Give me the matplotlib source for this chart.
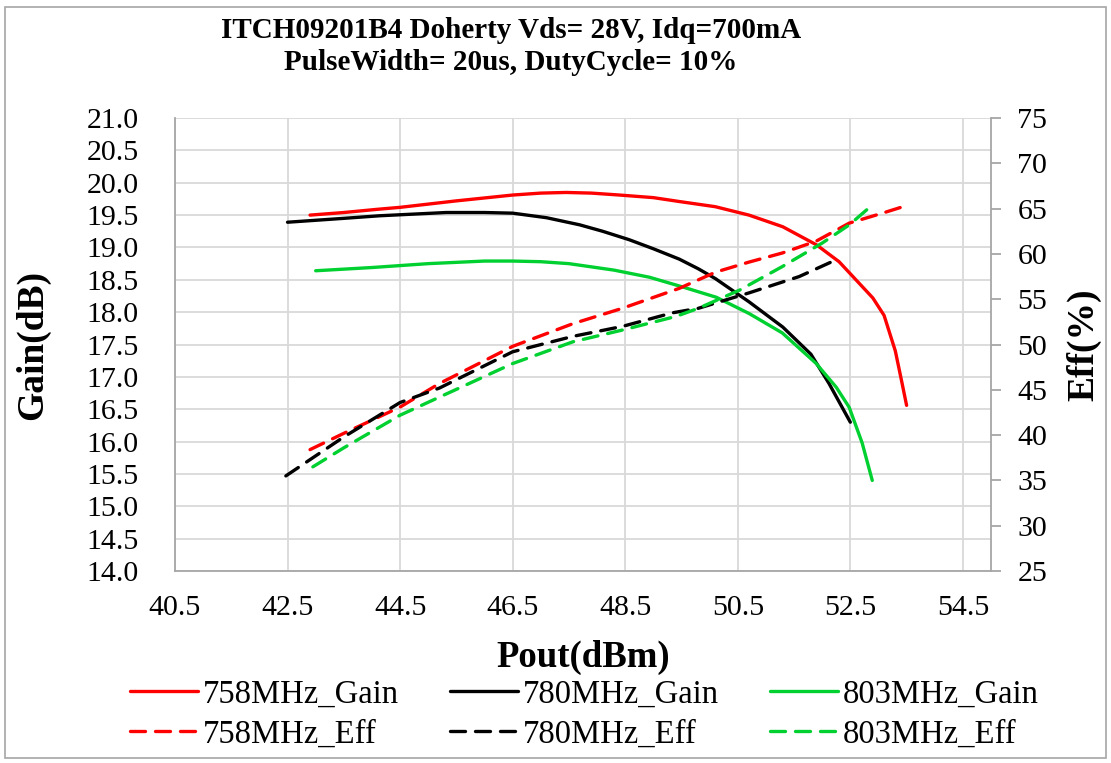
import matplotlib
matplotlib.use('Agg')
import matplotlib.pyplot as plt
from matplotlib.patches import Rectangle

plt.rcParams['font.family'] = ['Liberation Serif', 'DejaVu Serif']

# Pout (dBm) and gain (dB) / drain efficiency (%)
pout_758_gain = [42.9, 43.5, 44.1, 44.5, 45.5, 46.5, 47.0, 47.45, 47.9, 48.4, 49.0, 49.46, 50.1, 50.7, 51.3, 51.9, 52.3, 52.6, 52.9, 53.1, 53.3, 53.42, 53.5]
gain_758 = [19.50, 19.54, 19.59, 19.62, 19.72, 19.81, 19.84, 19.85, 19.84, 19.81, 19.77, 19.71, 19.63, 19.50, 19.32, 19.04, 18.78, 18.50, 18.22, 17.95, 17.40, 16.90, 16.56]

pout_780_gain = [42.5, 43.5, 44.14, 45.32, 46.0, 46.5, 47.1, 47.69, 48.1, 48.57, 49.0, 49.46, 49.8, 50.1, 50.7, 51.3, 51.8, 52.12, 52.5]
gain_780 = [19.39, 19.45, 19.49, 19.54, 19.54, 19.53, 19.46, 19.35, 19.25, 19.12, 18.98, 18.82, 18.67, 18.52, 18.16, 17.77, 17.35, 16.90, 16.30]

pout_803_gain = [43.0, 44.0, 45.0, 46.0, 46.5, 47.0, 47.5, 48.3, 48.93, 49.52, 50.12, 50.7, 51.29, 51.89, 52.25, 52.48, 52.71, 52.89]
gain_803 = [18.64, 18.69, 18.75, 18.79, 18.79, 18.78, 18.75, 18.65, 18.54, 18.39, 18.23, 17.98, 17.68, 17.21, 16.84, 16.53, 15.98, 15.40]

pout_758_eff = [42.9, 43.5, 44.5, 45.2, 46.5, 47.57, 48.45, 49.46, 50.11, 50.7, 51.29, 51.89, 52.48, 53.07, 53.48]
eff_758 = [38.4, 40.2, 43.1, 45.7, 49.8, 52.3, 54.0, 56.2, 58.0, 59.1, 60.1, 61.4, 63.4, 64.5, 65.3]

pout_780_eff = [42.47, 43.5, 44.5, 45.2, 46.5, 47.57, 48.45, 49.34, 49.8, 50.7, 51.59, 52.3]
eff_780 = [35.5, 39.8, 43.6, 45.2, 49.2, 50.9, 52.0, 53.5, 54.0, 55.7, 57.5, 59.5]

pout_803_eff = [42.95, 43.5, 44.5, 45.2, 46.5, 47.57, 48.45, 49.4, 49.8, 50.53, 51.29, 52.0, 52.48, 52.89]
eff_803 = [36.5, 38.6, 42.2, 44.2, 47.9, 50.3, 51.6, 53.1, 54.0, 56.0, 58.6, 61.2, 63.2, 65.4]

xticks = [40.5, 42.5, 44.5, 46.5, 48.5, 50.5, 52.5, 54.5]

RED = '#ff0000'
BLACK = '#000000'
GREEN = '#00d030'

fig = plt.figure(figsize=(11.11, 7.63), dpi=100)
ax = fig.add_axes([0.1575, 0.2516, 0.7345, 0.5937])
ax2 = ax.twinx()

lw = 2.4
dash = (0, (4.5, 3))
l1, = ax.plot(pout_758_gain, gain_758, color=RED, lw=lw, solid_capstyle='round', solid_joinstyle='round')
l2, = ax.plot(pout_780_gain, gain_780, color=BLACK, lw=lw, solid_capstyle='round', solid_joinstyle='round')
l3, = ax.plot(pout_803_gain, gain_803, color=GREEN, lw=lw, solid_capstyle='round', solid_joinstyle='round')
e1, = ax2.plot(pout_758_eff, eff_758, color=RED, lw=lw, linestyle=dash, dash_capstyle='round')
e2, = ax2.plot(pout_780_eff, eff_780, color=BLACK, lw=lw, linestyle=dash, dash_capstyle='round')
e3, = ax2.plot(pout_803_eff, eff_803, color=GREEN, lw=lw, linestyle=dash, dash_capstyle='round')

ax.set_xlim(40.5, 55)
ax.set_ylim(14, 21)
ax.set_xticks(xticks)
ax.set_xticklabels([f'{v:.1f}' for v in xticks])
ax.set_yticks([14 + 0.5 * i for i in range(15)])
ax.set_yticklabels([f'{14 + 0.5 * i:.1f}' for i in range(15)])
ax2.set_ylim(25, 75)
ax2.set_yticks(range(25, 80, 5))

ax.grid(True, color='#d9d9d9', lw=1.3)
ax.set_axisbelow(True)
for s in ['top', 'right']:
    ax.spines[s].set_visible(False)
for s in ['top', 'left', 'bottom']:
    ax2.spines[s].set_visible(False)
ax.spines['left'].set_color('#a6a6a6')
ax.spines['bottom'].set_color('#a6a6a6')
ax2.spines['right'].set_color('#a6a6a6')
for s in ['left', 'bottom']:
    ax.spines[s].set_linewidth(1.3)
ax2.spines['right'].set_linewidth(1.3)

ax.tick_params(axis='both', length=0, labelsize=21.5)
ax.tick_params(axis='y', pad=26)
ax.tick_params(axis='x', pad=17)
ax2.tick_params(axis='y', length=7, width=1.3, color='#a6a6a6', labelsize=21.5, pad=12)

ax.set_xlabel('Pout(dBm)', fontsize=26.5, fontweight='bold', labelpad=14)
ax.set_ylabel('Gain(dB)', fontsize=27, fontweight='bold', labelpad=26)
ax2.set_ylabel('Eff(%)', fontsize=27, fontweight='bold', labelpad=14)

fig.text(0.46, 0.96, 'ITCH09201B4 Doherty Vds= 28V, Idq=700mA', ha='center', va='center',
         fontsize=21, fontweight='bold')
fig.text(0.46, 0.918, 'PulseWidth= 20us, DutyCycle= 10%', ha='center', va='center',
         fontsize=21, fontweight='bold')

leg = fig.legend([l1, e1, l2, e2, l3, e3],
                 ['758MHz_Gain', '758MHz_Eff', '780MHz_Gain', '780MHz_Eff', '803MHz_Gain', '803MHz_Eff'],
                 ncol=3, loc='center', bbox_to_anchor=(0.526, 0.064), frameon=False,
                 fontsize=23.5, handlelength=2.1, handletextpad=0.15, columnspacing=1.55,
                 labelspacing=0.3)

fig.patches.append(Rectangle((0.0045, 0.006), 0.991, 0.985, transform=fig.transFigure,
                             fill=False, edgecolor='#a6a6a6', lw=1.2))

fig.savefig('out.png', dpi=100)
